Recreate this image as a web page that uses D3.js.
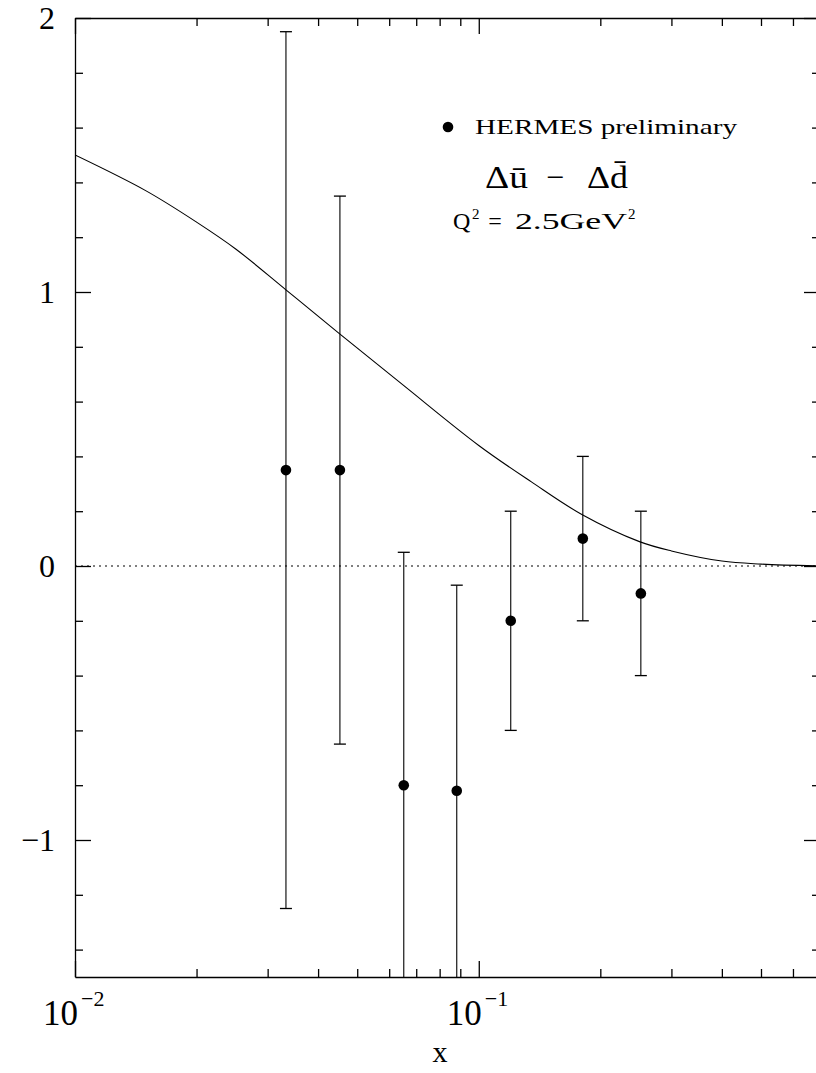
<!DOCTYPE html>
<html lang="en">
<head>
<meta charset="UTF-8">
<title>HERMES Delta ubar - Delta dbar</title>
<style>
    body{ margin: 0; background: #fff; }
    svg{ display: block; }
    text{ font-family: "Liberation Serif", "DejaVu Serif", serif; fill: #000; }
    .frame path, .frame line{ stroke: #000; }
</style>
<script src="https://d3js.org/d3.v7.min.js"></script>
</head>
<body>
<svg id="figure" width="816" height="1073"></svg>
<script>
// HERMES preliminary points
let xVals = [0.0333, 0.0453, 0.0652, 0.0882, 0.120, 0.181, 0.252]
let yVals = [0.35, 0.35, -0.80, -0.82, -0.20, 0.10, -0.10]
let errHi = [1.95, 1.35, 0.05, -0.07, 0.20, 0.40, 0.20]
let errLo = [-1.25, -0.65, -1.65, -1.60, -0.60, -0.20, -0.40]

// model curve
let curveX = [0.010, 0.015, 0.020, 0.025, 0.0333, 0.045, 0.065, 0.100, 0.135, 0.180, 0.250, 0.300, 0.400, 0.500, 0.700]
let curveY = [1.500, 1.369, 1.255, 1.157, 1.008, 0.850, 0.660, 0.440, 0.307, 0.188, 0.089, 0.055, 0.018, 0.007, 0.0]

// ticks
let yMajor = [-1, 0, 1, 2]
let yMinor = [-1.4, -1.2, -0.8, -0.6, -0.4, -0.2, 0.2, 0.4, 0.6, 0.8, 1.2, 1.4, 1.6, 1.8]
let yLabels = ["\u22121", "0", "1", "2"]
let xMajor = [0.01, 0.1]
let xMinor = [0.02, 0.03, 0.04, 0.05, 0.06, 0.07, 0.08, 0.09, 0.2, 0.3, 0.4, 0.5, 0.6]
let xExps = ["\u22122", "\u22121"]

let mLeft = 75, mRight = 820, mTop = 18, mBottom = 977

let xScale = d3.scaleLog().domain([0.01, 0.7]).range([mLeft, mRight])
let yScale = d3.scaleLinear().domain([-1.5, 2]).range([mBottom, mTop])

let svg = d3.select("#figure")

svg.append("clipPath").attr("id", "plotClip")
    .append("rect")
    .attr("x", mLeft).attr("y", mTop)
    .attr("width", mRight - mLeft).attr("height", mBottom - mTop)

let plot = svg.append("g").attr("clip-path", "url(#plotClip)")

// zero line
plot.append("line")
    .attr("x1", mLeft).attr("x2", mRight)
    .attr("y1", yScale(0)).attr("y2", yScale(0))
    .attr("stroke", "#000").attr("stroke-width", 1.2)
    .attr("stroke-dasharray", "2,4")

// curve
let line = d3.line()
    .x(function (d){ return xScale(d[0]) })
    .y(function (d){ return yScale(d[1]) })
    .curve(d3.curveCatmullRom.alpha(0.5))

plot.append("path")
    .datum(d3.zip(curveX, curveY))
    .attr("d", line)
    .attr("fill", "none")
    .attr("stroke", "#000")
    .attr("stroke-width", 1.1)

// error bars
let pts = d3.range(xVals.length).map(function (i){
    return {x: xVals[i], y: yVals[i], hi: errHi[i], lo: errLo[i]}
})
let capW = 6

let bars = plot.selectAll(".err").data(pts).enter().append("g").attr("class", "err")
bars.append("line")
    .attr("x1", function (d){ return xScale(d.x) })
    .attr("x2", function (d){ return xScale(d.x) })
    .attr("y1", function (d){ return yScale(d.hi) })
    .attr("y2", function (d){ return yScale(d.lo) })
    .attr("stroke", "#000").attr("stroke-width", 1.1)
bars.append("line")
    .attr("x1", function (d){ return xScale(d.x) - capW })
    .attr("x2", function (d){ return xScale(d.x) + capW })
    .attr("y1", function (d){ return yScale(d.hi) })
    .attr("y2", function (d){ return yScale(d.hi) })
    .attr("stroke", "#000").attr("stroke-width", 1.3)
bars.append("line")
    .attr("x1", function (d){ return xScale(d.x) - capW })
    .attr("x2", function (d){ return xScale(d.x) + capW })
    .attr("y1", function (d){ return yScale(d.lo) })
    .attr("y2", function (d){ return yScale(d.lo) })
    .attr("stroke", "#000").attr("stroke-width", 1.3)
bars.append("circle")
    .attr("cx", function (d){ return xScale(d.x) })
    .attr("cy", function (d){ return yScale(d.y) })
    .attr("r", 5.3)
    .attr("fill", "#000")

// frame with inward ticks on all four sides
function frameAxis(axisFn, scale, major, minor, transform){
    let g = svg.append("g").attr("class", "frame").attr("transform", transform)
    g.call(axisFn(scale).tickValues(major).tickSizeInner(-16).tickSizeOuter(0).tickFormat(""))
    g.append("g").call(axisFn(scale).tickValues(minor).tickSizeInner(-8).tickSizeOuter(0).tickFormat(""))
        .select(".domain").remove()
    g.selectAll("path, line").attr("stroke-width", 1.3)
}
frameAxis(d3.axisBottom, xScale, xMajor, xMinor, `translate(0,${mBottom})`)
frameAxis(d3.axisTop, xScale, xMajor, xMinor, `translate(0,${mTop})`)
frameAxis(d3.axisLeft, yScale, yMajor, yMinor, `translate(${mLeft},0)`)
frameAxis(d3.axisRight, yScale, yMajor, yMinor, `translate(${mRight},0)`)

// y tick labels
svg.selectAll(".ylab").data(yMajor).enter().append("text")
    .attr("class", "ylab")
    .attr("x", 55)
    .attr("y", function (d){ return yScale(d) + 11 })
    .attr("text-anchor", "end")
    .attr("font-size", 32)
    .text(function (d, i){ return yLabels[i] })

// x tick labels: 10^-k
xMajor.forEach(function (v, i){
    svg.append("text")
        .attr("x", xScale(v) + 3).attr("y", 1025)
        .attr("text-anchor", "end")
        .attr("font-size", 35)
        .text("10")
    svg.append("text")
        .attr("x", xScale(v) + 6).attr("y", 1006)
        .attr("font-size", 22)
        .text(xExps[i])
})

svg.append("text")
    .attr("x", 440).attr("y", 1062)
    .attr("text-anchor", "middle")
    .attr("font-size", 30)
    .text("x")

// legend and annotations
svg.append("circle").attr("cx", 448).attr("cy", 127).attr("r", 5.3).attr("fill", "#000")
svg.append("text")
    .attr("x", 475).attr("y", 134)
    .attr("font-size", 21)
    .attr("textLength", 262).attr("lengthAdjust", "spacingAndGlyphs")
    .text("HERMES preliminary")

// Delta ubar - Delta dbar
svg.append("text").attr("x", 485).attr("y", 188).attr("font-size", 32)
    .attr("textLength", 43).attr("lengthAdjust", "spacingAndGlyphs")
    .text("\u0394u\u0304")
svg.append("text").attr("x", 555).attr("y", 188).attr("font-size", 32)
    .attr("text-anchor", "middle")
    .text("\u2212")
svg.append("text").attr("x", 587).attr("y", 188).attr("font-size", 32)
    .attr("textLength", 41).attr("lengthAdjust", "spacingAndGlyphs")
    .text("\u0394d\u0304")

// Q^2 = 2.5GeV^2
svg.append("text").attr("x", 453).attr("y", 229).attr("font-size", 24).text("Q")
svg.append("text").attr("x", 472).attr("y", 219).attr("font-size", 15).text("2")
svg.append("text").attr("x", 495).attr("y", 229).attr("font-size", 24)
    .attr("text-anchor", "middle").text("=")
svg.append("text").attr("x", 515).attr("y", 229).attr("font-size", 24)
    .attr("textLength", 112).attr("lengthAdjust", "spacingAndGlyphs")
    .text("2.5GeV")
svg.append("text").attr("x", 628).attr("y", 219).attr("font-size", 15).text("2")
</script>
</body>
</html>
